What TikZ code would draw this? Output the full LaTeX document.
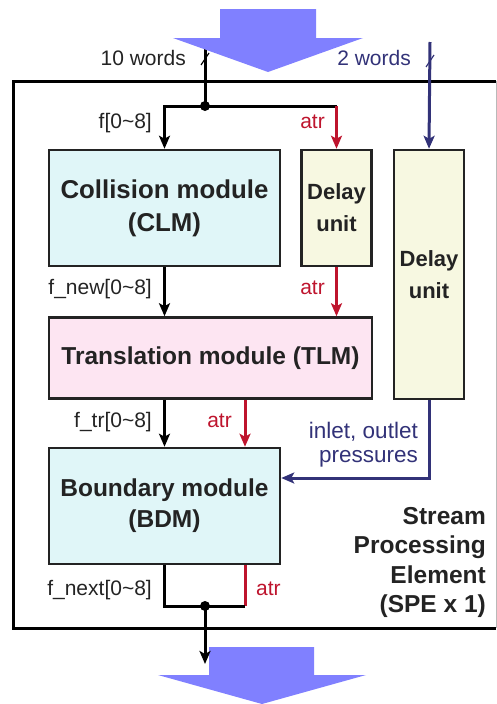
\documentclass[tikz,border=0pt]{standalone}
\usepackage{fontspec}
\setmainfont{Liberation Sans}
\usetikzlibrary{arrows.meta, calc, positioning}
\definecolor{clmcol}{RGB}{224, 246, 248}
\definecolor{tlmcol}{RGB}{253, 229, 242}
\definecolor{dlycol}{RGB}{247, 248, 225}
\definecolor{bigcol}{RGB}{128, 128, 255}
\definecolor{atrcol}{RGB}{190, 20, 45}
\definecolor{prscol}{RGB}{50, 50, 120}
\definecolor{inkcol}{RGB}{35, 35, 35}
\tikzset{
  modbox/.style  = {draw=inkcol, line width=2.5pt, align=center, inner sep=0pt,
                    text=inkcol, font=\bfseries\fontsize{24.5}{31}\selectfont},
  clmbox/.style  = {modbox, fill=clmcol},
  tlmbox/.style  = {modbox, fill=tlmcol},
  dlybox/.style  = {modbox, fill=dlycol, minimum width=70pt,
                    font=\bfseries\fontsize{22}{32}\selectfont},
  sig/.style     = {font=\fontsize{21}{24}\selectfont, text=inkcol,
                    inner sep=0pt},
  atrlbl/.style  = {sig, text=atrcol},
  prslbl/.style  = {sig, text=prscol, align=right,
                    font=\fontsize{22.5}{24}\selectfont},
  spelbl/.style  = {text=inkcol, align=right, inner sep=0pt,
                    font=\bfseries\fontsize{24.5}{29.5}\selectfont},
  bus/.style     = {line width=3pt},
  flow/.style    = {bus, -{Stealth[length=13pt, width=11pt, inset=3pt]}},
  atrflow/.style = {flow, color=atrcol},
  prsflow/.style = {flow, color=prscol},
  tick/.style    = {line width=1.2pt},
  frame/.style   = {draw=black, line width=3pt},
  bigarrow/.style = {fill=bigcol},
}

\begin{document}
\begin{tikzpicture}[x=1pt, y=-1pt]
  \useasboundingbox (0,0) rectangle (497,704);

  %% ---------------- the element ----------------
  \draw[frame] (496,81) -- (13,81) -- (13,628) -- (496,628);
  \draw[gray!55, line width=1pt] (496,81) -- (496,628);

  %% ---------------- modules ----------------
  \node[clmbox, minimum width=231pt, minimum height=116pt,
        font=\bfseries\fontsize{25.8}{33}\selectfont] (clm) at (164.5,208)
       {Collision module\\(CLM)};
  \node[dlybox, minimum height=116pt, right=19pt of clm.north east,
        anchor=north west] (dly1) {Delay\\unit};
  \node[dlybox, minimum height=249pt, right=20pt of dly1.north east,
        anchor=north west] (dly2) {Delay\\unit};
  \node[tlmbox, minimum width=323pt, minimum height=81pt,
        below=49pt of clm.south west, anchor=north west] (tlm)
       {Translation module (TLM)};
  \node[clmbox, minimum width=231pt, minimum height=116pt,
        below=47pt of tlm.south west, anchor=north west] (bdm)
       {Boundary module\\(BDM)};

  \node[spelbl, anchor=north east] (spe) at (486,507)
       {Stream\\Processing\\Element\\(SPE x 1)};

  %% ---------------- free ends ----------------
  \coordinate (fin) at (205,40);
  \coordinate (fsplit) at (205,106);
  \coordinate (pin) at (430,42);
  \coordinate (atrx) at (245,0);
  \coordinate (fjoin) at (205,606);
  \coordinate (fout) at (205,664);

  %% ---------------- in ----------------
  \draw[bus] (fin) -- (fsplit);
  \draw[flow] (fsplit) -| (clm.north);
  \draw[bus] (fsplit) -- (fsplit -| dly1.north);
  \draw[atrflow] (fsplit -| dly1.north) -- (dly1.north);
  \fill (fsplit) circle (5pt);
  \draw[prsflow] (pin) -- (dly2.north);
  \draw[tick] (201,65) -- (209,53);
  \draw[tick, prscol] (426,67) -- (434,55);

  \fill[bigarrow] (220,9) -- (316,9) -- (316,38) -- (363,38) -- (268,72)
       -- (173,38) -- (220,38) -- cycle;

  %% ---------------- between modules ----------------
  \draw[flow] (clm.south) -- (clm.south |- tlm.north);
  \draw[atrflow] (dly1.south) -- (dly1.south |- tlm.north);
  \draw[flow] (clm.south |- tlm.south) -- (bdm.north);
  \draw[atrflow] (tlm.south -| atrx) -- (bdm.north -| atrx);
  \draw[prsflow] (dly2.south) |- ([yshift=28pt]bdm.east);

  %% ---------------- out ----------------
  \fill[bigarrow] (209,647) -- (314,647) -- (314,675) -- (366,675) -- (262,704)
       -- (158,675) -- (209,675) -- cycle;
  \draw[bus, atrcol] (bdm.south -| atrx) -- (fjoin -| atrx);
  \draw[bus] (bdm.south) |- (fjoin -| atrx);
  \fill (fjoin) circle (5pt);
  \draw[flow] (fjoin) -- (fout);

  %% ---------------- labels ----------------
  \node[sig, anchor=base east] (w10) at (186,65) {10 words};
  \node[sig, anchor=base east, text=prscol] (w2) at (411,65) {2 words};
  \node[sig, anchor=base east] (lf) at (152,128) {f[0\textasciitilde8]};
  \node[atrlbl, anchor=base east] (la1) at (325,128) {atr};
  \node[sig, anchor=base east] (lnew) at (152,294) {f\_new[0\textasciitilde8]};
  \node[atrlbl, anchor=base east] (la2) at (325,294) {atr};
  \node[sig, anchor=base east] (ltr) at (152,427) {f\_tr[0\textasciitilde8]};
  \node[atrlbl, anchor=base east] (la3) at (232,427) {atr};
  \node[prslbl, anchor=north east] (lprs) at (418,421.5)
       {inlet, outlet\\pressures};
  \node[sig, anchor=base east] (lnext) at (152,595) {f\_next[0\textasciitilde8]};
  \node[atrlbl, anchor=base west] (la4) at (256,595) {atr};

\end{tikzpicture}
\end{document}
